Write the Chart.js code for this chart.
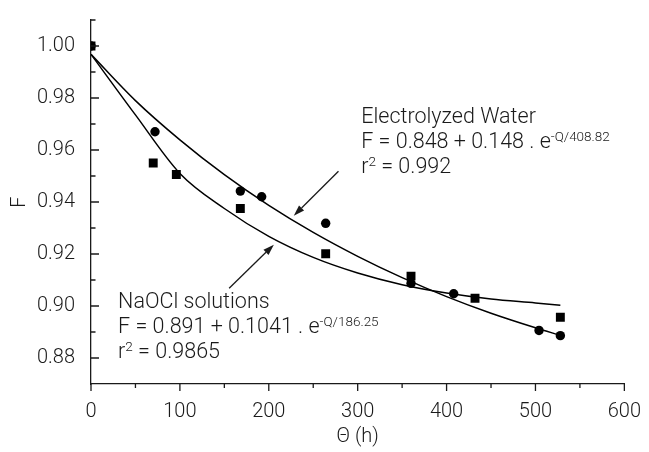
<!DOCTYPE html>
<html>
<head>
<meta charset="utf-8">
<script src="https://cdn.jsdelivr.net/npm/chart.js@4.4.1/dist/chart.umd.min.js"></script>
<style>
    html, body { margin: 0; padding: 0; background: #fff; }
    #chart { display: block; }
</style>
</head>
<body>
<canvas id="chart" width="649" height="452"></canvas>
<script>
// ------------------------------------------------------
// @Data
// ------------------------------------------------------

// Electrolyzed water: measured points (circles)
const ewTime = [0, 72, 168, 192, 264, 360, 408, 504, 528];
const ewF    = [1.000, 0.967, 0.9442, 0.9420, 0.9318, 0.9087, 0.9047, 0.8906, 0.8886];

// NaOCl solutions: measured points (squares)
const naTime = [0, 70, 96, 168, 264, 360, 432, 528];
const naF    = [1.000, 0.955, 0.9506, 0.9375, 0.9201, 0.9115, 0.9030, 0.8957];

// fitted curves
const fitTime = [0, 50, 100, 150, 200, 250, 300, 350, 400, 450, 500, 528];
const ewFit   = [0.9968, 0.9790, 0.9639, 0.9505, 0.9387, 0.9283, 0.9191, 0.9109, 0.9036, 0.8972, 0.8916, 0.8887];
const naFit   = [0.9968, 0.9735, 0.9510, 0.9375, 0.9268, 0.9187, 0.9127, 0.9082, 0.9050, 0.9027, 0.9012, 0.9003];

// axes
const xTicks      = [0, 100, 200, 300, 400, 500, 600];
const xMinorTicks = [50, 150, 250, 350, 450, 550];
const yTicks      = [0.88, 0.90, 0.92, 0.94, 0.96, 0.98, 1.00];
const yMinorTicks = [0.89, 0.91, 0.93, 0.95, 0.97, 0.99, 1.01];

const FONT = 'Roboto, "Liberation Sans", Arial, sans-serif';
const INK  = '#1a1a1a';

const pts = (xs, ys) => xs.map((x, i) => ({ x: x, y: ys[i] }));

// ------------------------------------------------------
// @Annotations: texts + arrows, anchored in data units
// ------------------------------------------------------

const notes = [{
    x: 304, y: 0.9705,
    lines: [
        [['Electrolyzed Water']],
        [['F = 0.848 + 0.148 . e'], ['-Q/408.82', true]],
        [['r'], ['2', true], [' = 0.992']],
    ],
}, {
    x: 30.5, y: 0.8994,
    lines: [
        [['NaOCl solutions']],
        [['F = 0.891 + 0.1041 . e'], ['-Q/186.25', true]],
        [['r'], ['2', true], [' = 0.9865']],
    ],
}];

const arrows = [
    { from: [278.4, 0.9518], to: [228.1, 0.9347] },
    { from: [155.4, 0.9068], to: [205.7, 0.9236] },
];

const axisTicks = {
    id: 'axisTicks',
    afterDraw(chart) {
        const { ctx, chartArea: a, scales: { x, y } } = chart;
        ctx.save();
        ctx.strokeStyle = INK;
        ctx.lineWidth = 1.3;
        ctx.beginPath();
        xTicks.forEach(v => { const p = x.getPixelForValue(v); ctx.moveTo(p, a.bottom); ctx.lineTo(p, a.bottom + 7); });
        xMinorTicks.forEach(v => { const p = x.getPixelForValue(v); ctx.moveTo(p, a.bottom); ctx.lineTo(p, a.bottom + 4); });
        yTicks.forEach(v => { const p = y.getPixelForValue(v); ctx.moveTo(a.left, p); ctx.lineTo(a.left + 8, p); });
        yMinorTicks.forEach(v => { const p = y.getPixelForValue(v); ctx.moveTo(a.left, p); ctx.lineTo(a.left + 4.5, p); });
        ctx.stroke();
        ctx.restore();
    },
};

const annotations = {
    id: 'annotations',
    afterDatasetsDraw(chart) {
        const { ctx, scales: { x, y } } = chart;
        ctx.save();
        ctx.fillStyle = INK;
        ctx.strokeStyle = INK;
        ctx.textBaseline = 'alphabetic';
        ctx.textAlign = 'left';

        notes.forEach(n => {
            const left = x.getPixelForValue(n.x);
            let base = y.getPixelForValue(n.y);
            n.lines.forEach(line => {
                let cx = left;
                line.forEach(([txt, sup]) => {
                    ctx.font = (sup ? '300 13.5px ' : '300 21.5px ') + FONT;
                    ctx.fillText(txt, cx, sup ? base - 7 : base);
                    cx += ctx.measureText(txt).width;
                });
                base += 25;
            });
        });

        arrows.forEach(ar => {
            const x0 = x.getPixelForValue(ar.from[0]), y0 = y.getPixelForValue(ar.from[1]);
            const x1 = x.getPixelForValue(ar.to[0]),   y1 = y.getPixelForValue(ar.to[1]);
            const ang = Math.atan2(y1 - y0, x1 - x0);
            const len = 11, half = 3.6;
            const bx = x1 - len * Math.cos(ang), by = y1 - len * Math.sin(ang);
            ctx.lineWidth = 1.3;
            ctx.beginPath();
            ctx.moveTo(x0, y0);
            ctx.lineTo(bx, by);
            ctx.stroke();
            ctx.beginPath();
            ctx.moveTo(x1, y1);
            ctx.lineTo(bx + half * Math.sin(ang), by - half * Math.cos(ang));
            ctx.lineTo(bx - half * Math.sin(ang), by + half * Math.cos(ang));
            ctx.closePath();
            ctx.fill();
        });
        ctx.restore();
    },
};

// ------------------------------------------------------
// @Chart
// ------------------------------------------------------

new Chart(document.getElementById('chart').getContext('2d'), {
    type: 'scatter',
    data: {
        datasets: [{
            label           : 'Electrolyzed Water',
            data            : pts(ewTime, ewF),
            pointStyle      : 'circle',
            pointRadius     : 4.7,
            backgroundColor : '#000',
            borderWidth     : 0,
        }, {
            label           : 'NaOCl solutions',
            data            : pts(naTime, naF),
            pointStyle      : 'rect',
            pointRadius     : 6.3,
            backgroundColor : '#000',
            borderWidth     : 0,
        }, {
            type            : 'line',
            label           : 'Electrolyzed Water fit',
            data            : pts(fitTime, ewFit),
            borderColor     : '#000',
            borderWidth     : 1.5,
            pointRadius     : 0,
            fill            : false,
            cubicInterpolationMode: 'monotone',
        }, {
            type            : 'line',
            label           : 'NaOCl fit',
            data            : pts(fitTime, naFit),
            borderColor     : '#000',
            borderWidth     : 1.5,
            pointRadius     : 0,
            fill            : false,
            cubicInterpolationMode: 'monotone',
        }],
    },
    options: {
        responsive: false,
        animation: false,
        devicePixelRatio: 1,
        layout: { padding: { left: 0, top: 17, right: 21, bottom: 0 } },
        plugins: {
            legend: { display: false },
            tooltip: { enabled: false },
        },
        scales: {
            x: {
                type: 'linear',
                min: 0,
                max: 600,
                afterBuildTicks: s => { s.ticks = xTicks.map(v => ({ value: v })); },
                afterFit: s => { s.height = 68; },
                grid: { display: false },
                border: { display: true, color: INK, width: 1.3 },
                ticks: {
                    padding: 8,
                    color: INK,
                    font: { family: FONT, size: 20, weight: 300 },
                    maxRotation: 0,
                    callback: v => String(v),
                },
                title: {
                    display: true,
                    text: 'Θ (h)',
                    color: INK,
                    padding: 3,
                    font: { family: FONT, size: 20, weight: 300 },
                },
            },
            y: {
                type: 'linear',
                min: 0.87,
                max: 1.01,
                afterBuildTicks: s => { s.ticks = yTicks.map(v => ({ value: v })); },
                afterFit: s => { s.width = 91; },
                grid: { display: false },
                border: { display: true, color: INK, width: 1.3 },
                ticks: {
                    padding: 8,
                    color: INK,
                    font: { family: FONT, size: 20, weight: 300 },
                    callback: v => Number(v).toFixed(2),
                },
                title: {
                    display: true,
                    text: 'F',
                    color: INK,
                    padding: 8,
                    font: { family: FONT, size: 20, weight: 300 },
                },
            },
        },
    },
    plugins: [axisTicks, annotations],
});
</script>
</body>
</html>
